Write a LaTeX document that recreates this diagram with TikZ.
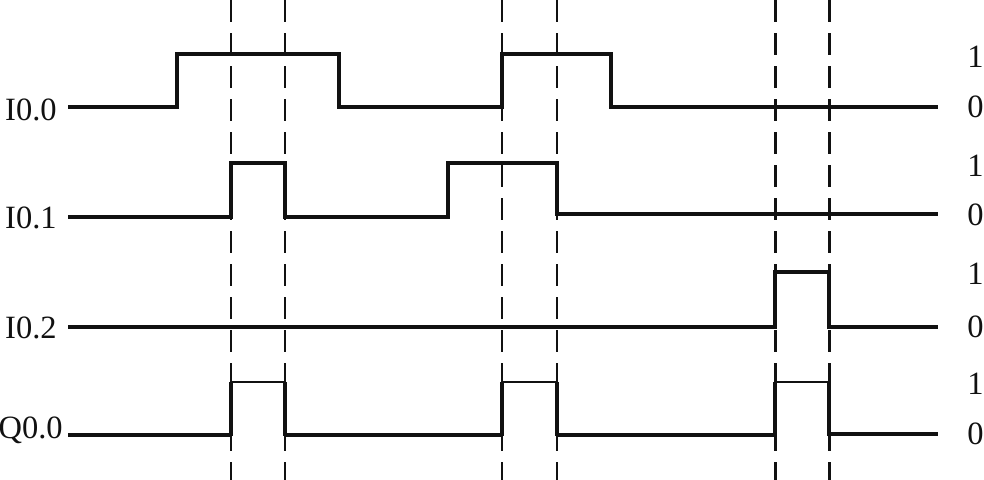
\documentclass[tikz,border=0pt]{standalone}
\usepackage{fontspec}
\setmainfont{Liberation Serif}
\usetikzlibrary{positioning,calc}
\definecolor{timInk}{HTML}{111111}
\tikzset{
  tim/signal/.style={draw=timInk, line width=1.9pt, line join=miter},
  tim/pulse/.style={draw=timInk, line width=1.2pt},
  tim/guide/.style={draw=timInk, line width=1.7pt, dash pattern=on 12.5pt off 6.3pt},
  tim/name/.style={font=\fontsize{18.5}{18.5}\selectfont, text=timInk, anchor=east,
    inner sep=0pt},
  tim/level/.style={font=\fontsize{18.5}{18.5}\selectfont, text=timInk, anchor=west,
    inner sep=0pt},
}

\begin{document}
\begin{tikzpicture}[x=0.02cm, y=-0.02cm]
\useasboundingbox (0,0) rectangle (984,480);

\foreach \x in {231,285,502,557,775,829}
  \draw[tim/guide] (\x,0) -- (\x,480);

\node[tim/name] (i00) at (57,110) {I0.0};
\node[tim/name] (i01) at (57,218) {I0.1};
\node[tim/name] (i02) at (57,328) {I0.2};
\node[tim/name] (q00) at (63,430) {Q0.0};

\draw[tim/signal] (68,107) -- (177,107) -- (177,54) -- (339,54) -- (339,107)
  -- (502,107) -- (502,54) -- (611,54) -- (611,107) -- (938,107);
\draw[tim/signal] (68,217) -- (231,217) -- (231,163) -- (285,163) -- (285,217)
  -- (448,217) -- (448,163) -- (557,163) -- (557,214) -- (938,214);
\draw[tim/signal] (68,327) -- (775,327) -- (775,272) -- (829,272) -- (829,327)
  -- (938,327);

\draw[tim/signal] (68,435) -- (231,435) (285,435) -- (502,435)
  (557,435) -- (775,435) (829,434) -- (938,434);
\foreach \a/\b in {231/285,502/557,775/829} {
  \draw[tim/signal] (\a,436) -- (\a,382);
  \draw[tim/signal] (\b,382) -- (\b,436);
  \draw[tim/pulse] (\a,382) -- (\b,382);
}

\foreach \lo/\hi in {107/57,215/166,327/274,434/384} {
  \node[tim/level] (hi-\lo) at (967,\hi) {1};
  \node[tim/level] (lo-\lo) at (967,\lo) {0};
}
\end{tikzpicture}
\end{document}
